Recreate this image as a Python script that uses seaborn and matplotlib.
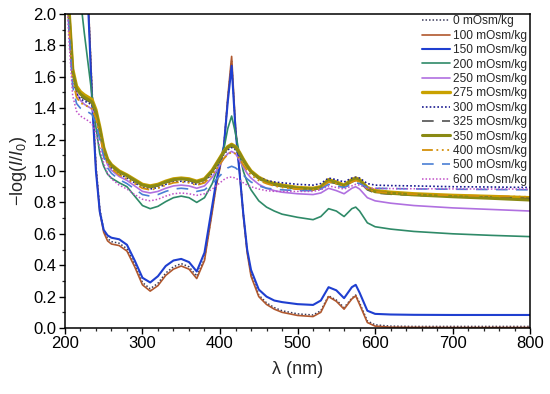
import numpy as np
import pandas as pd
import matplotlib
matplotlib.use("Agg")
import matplotlib.pyplot as plt
import seaborn as sns
from matplotlib.ticker import MultipleLocator

sns.set_theme(style="white")
plt.rcParams['font.family'] = ['Liberation Sans', 'DejaVu Sans']
plt.rcParams['mathtext.fontset'] = 'custom'
plt.rcParams['mathtext.rm'] = 'Liberation Sans'
plt.rcParams['mathtext.it'] = 'Liberation Sans:italic'

wavelength = [200, 205, 210, 215, 220, 225, 230, 235, 240, 245,
              250, 255, 260, 270, 280, 290, 300, 310, 320, 330,
              340, 350, 360, 370, 380, 390, 395, 400, 405, 410,
              415, 420, 425, 430, 435, 440, 450, 460, 470, 480,
              500, 520, 530, 540, 550, 560, 570, 575, 580, 590,
              600, 620, 650, 700, 750, 800]

labels = ["0 mOsm/kg", "100 mOsm/kg", "150 mOsm/kg", "200 mOsm/kg",
          "250 mOsm/kg", "275 mOsm/kg", "300 mOsm/kg", "325 mOsm/kg",
          "350 mOsm/kg", "400 mOsm/kg", "500 mOsm/kg", "600 mOsm/kg"]

a0 = [4.0, 3.9, 3.7, 3.4, 3.0, 2.6, 2.1, 1.52, 1.04, 0.76,
      0.625, 0.57, 0.55, 0.54, 0.505, 0.405, 0.29, 0.25, 0.285, 0.35,
      0.39, 0.41, 0.39, 0.33, 0.44, 0.75, 0.91, 1.03, 1.16, 1.46,
      1.70, 1.27, 1.01, 0.73, 0.49, 0.345, 0.21, 0.16, 0.13, 0.11,
      0.09, 0.083, 0.11, 0.205, 0.178, 0.13, 0.19, 0.21, 0.16, 0.045,
      0.02, 0.012, 0.01, 0.01, 0.01, 0.01]
a100 = [4.0, 3.9, 3.7, 3.4, 3.0, 2.6, 2.1, 1.5, 1.02, 0.74,
        0.61, 0.555, 0.535, 0.525, 0.49, 0.39, 0.275, 0.235, 0.27, 0.335,
        0.375, 0.395, 0.375, 0.315, 0.43, 0.74, 0.90, 1.02, 1.15, 1.47,
        1.73, 1.28, 1.01, 0.72, 0.48, 0.33, 0.20, 0.15, 0.12, 0.10,
        0.08, 0.073, 0.10, 0.20, 0.17, 0.12, 0.185, 0.205, 0.15, 0.035,
        0.012, 0.005, 0.004, 0.003, 0.003, 0.003]
a150 = [4.0, 3.9, 3.7, 3.4, 3.0, 2.55, 2.05, 1.45, 1.0, 0.74,
        0.625, 0.59, 0.575, 0.565, 0.53, 0.43, 0.32, 0.29, 0.33, 0.395,
        0.43, 0.44, 0.42, 0.36, 0.48, 0.78, 0.93, 1.04, 1.16, 1.44,
        1.67, 1.26, 1.00, 0.73, 0.50, 0.37, 0.245, 0.20, 0.175, 0.165,
        0.152, 0.147, 0.175, 0.26, 0.24, 0.19, 0.26, 0.275, 0.225, 0.11,
        0.09, 0.086, 0.084, 0.083, 0.083, 0.083]
a200 = [3.6, 3.2, 2.85, 2.5, 2.1, 1.88, 1.68, 1.48, 1.28, 1.11,
        1.03, 0.98, 0.955, 0.925, 0.90, 0.84, 0.78, 0.76, 0.775, 0.805,
        0.83, 0.84, 0.83, 0.80, 0.83, 0.92, 0.99, 1.06, 1.14, 1.27,
        1.35, 1.24, 1.11, 1.00, 0.93, 0.88, 0.81, 0.77, 0.745, 0.725,
        0.705, 0.69, 0.71, 0.76, 0.745, 0.71, 0.76, 0.77, 0.745, 0.67,
        0.645, 0.63, 0.615, 0.60, 0.59, 0.582]
a250 = [2.6, 2.1, 1.66, 1.50, 1.45, 1.425, 1.41, 1.395, 1.34, 1.23,
        1.11, 1.04, 1.005, 0.965, 0.94, 0.905, 0.87, 0.86, 0.87, 0.89,
        0.905, 0.91, 0.905, 0.89, 0.905, 0.96, 1.00, 1.04, 1.08, 1.11,
        1.125, 1.11, 1.07, 1.025, 0.985, 0.955, 0.915, 0.89, 0.875, 0.865,
        0.855, 0.85, 0.86, 0.89, 0.875, 0.855, 0.89, 0.90, 0.885, 0.83,
        0.81, 0.795, 0.78, 0.765, 0.755, 0.745]
a275 = [2.7, 2.05, 1.65, 1.54, 1.505, 1.485, 1.47, 1.455, 1.39, 1.28,
        1.15, 1.075, 1.04, 1.0, 0.975, 0.945, 0.915, 0.905, 0.915, 0.935,
        0.95, 0.955, 0.95, 0.935, 0.95, 1.005, 1.045, 1.085, 1.125, 1.155,
        1.17, 1.155, 1.12, 1.075, 1.035, 1.0, 0.96, 0.935, 0.92, 0.91,
        0.895, 0.89, 0.90, 0.945, 0.93, 0.91, 0.945, 0.955, 0.945, 0.895,
        0.875, 0.865, 0.855, 0.845, 0.838, 0.83]
a300 = [2.6, 2.0, 1.60, 1.49, 1.46, 1.445, 1.435, 1.42, 1.36, 1.25,
        1.13, 1.06, 1.02, 0.98, 0.955, 0.925, 0.895, 0.885, 0.895, 0.915,
        0.93, 0.935, 0.93, 0.915, 0.93, 0.985, 1.025, 1.065, 1.105, 1.135,
        1.15, 1.135, 1.10, 1.06, 1.025, 0.995, 0.96, 0.94, 0.93, 0.925,
        0.915, 0.91, 0.92, 0.955, 0.945, 0.93, 0.955, 0.96, 0.955, 0.92,
        0.91, 0.907, 0.905, 0.90, 0.898, 0.895]
a325 = [2.6, 2.0, 1.62, 1.51, 1.475, 1.46, 1.445, 1.43, 1.365, 1.255,
        1.135, 1.065, 1.03, 0.99, 0.965, 0.935, 0.905, 0.895, 0.905, 0.925,
        0.94, 0.945, 0.94, 0.925, 0.94, 0.995, 1.035, 1.075, 1.115, 1.145,
        1.16, 1.145, 1.11, 1.065, 1.025, 0.99, 0.95, 0.925, 0.91, 0.90,
        0.885, 0.88, 0.89, 0.93, 0.92, 0.90, 0.93, 0.94, 0.93, 0.88,
        0.86, 0.852, 0.845, 0.838, 0.832, 0.825]
a350 = [2.65, 2.02, 1.63, 1.525, 1.49, 1.47, 1.455, 1.44, 1.375, 1.265,
        1.14, 1.07, 1.035, 0.995, 0.97, 0.94, 0.91, 0.90, 0.91, 0.93,
        0.945, 0.95, 0.945, 0.93, 0.945, 1.0, 1.04, 1.08, 1.12, 1.15,
        1.165, 1.15, 1.115, 1.07, 1.03, 0.995, 0.955, 0.93, 0.915, 0.905,
        0.89, 0.885, 0.895, 0.94, 0.925, 0.905, 0.94, 0.95, 0.94, 0.89,
        0.868, 0.858, 0.848, 0.836, 0.826, 0.815]
a400 = [2.6, 1.98, 1.58, 1.47, 1.435, 1.42, 1.41, 1.395, 1.335, 1.23,
        1.115, 1.05, 1.015, 0.975, 0.95, 0.92, 0.89, 0.88, 0.89, 0.91,
        0.925, 0.93, 0.925, 0.91, 0.925, 0.975, 1.01, 1.045, 1.08, 1.105,
        1.12, 1.11, 1.08, 1.04, 1.005, 0.975, 0.94, 0.92, 0.905, 0.895,
        0.885, 0.88, 0.89, 0.93, 0.92, 0.90, 0.93, 0.94, 0.93, 0.885,
        0.868, 0.86, 0.852, 0.845, 0.84, 0.835]
a500 = [2.5, 1.92, 1.54, 1.43, 1.40, 1.385, 1.375, 1.36, 1.30, 1.20,
        1.09, 1.02, 0.985, 0.945, 0.92, 0.885, 0.85, 0.84, 0.85, 0.87,
        0.885, 0.89, 0.885, 0.87, 0.88, 0.92, 0.945, 0.97, 0.995, 1.02,
        1.03, 1.02, 1.0, 0.975, 0.95, 0.93, 0.905, 0.89, 0.885, 0.88,
        0.875, 0.875, 0.885, 0.915, 0.905, 0.895, 0.915, 0.925, 0.92, 0.895,
        0.89, 0.888, 0.886, 0.884, 0.882, 0.88]
a600 = [2.4, 1.85, 1.48, 1.38, 1.35, 1.335, 1.32, 1.30, 1.24, 1.15,
        1.05, 0.985, 0.95, 0.91, 0.885, 0.85, 0.82, 0.81, 0.82, 0.84,
        0.855, 0.86, 0.855, 0.845, 0.855, 0.885, 0.905, 0.925, 0.945, 0.958,
        0.962, 0.955, 0.94, 0.925, 0.91, 0.90, 0.885, 0.875, 0.87, 0.87,
        0.87, 0.87, 0.88, 0.905, 0.895, 0.885, 0.905, 0.915, 0.91, 0.89,
        0.89, 0.888, 0.887, 0.886, 0.885, 0.885]

series = [a0, a100, a150, a200, a250, a275, a300, a325, a350, a400, a500, a600]

styles = [
    dict(color='#3a3a5a', lw=1.1, ls=(0, (1, 1.3))),
    dict(color='#b0582e', lw=1.2, ls='-'),
    dict(color='#1f3fd0', lw=1.5, ls='-'),
    dict(color='#2f8a68', lw=1.2, ls='-'),
    dict(color='#b070e0', lw=1.2, ls='-'),
    dict(color='#c9a100', lw=2.4, ls='-'),
    dict(color='#1a1a90', lw=1.2, ls=(0, (1, 1.3))),
    dict(color='#505050', lw=1.2, ls=(0, (7, 5))),
    dict(color='#8a8a14', lw=2.2, ls='-'),
    dict(color='#d4900a', lw=1.3, ls=(0, (6, 2, 1, 2, 1, 2, 1, 2))),
    dict(color='#4a7fd4', lw=1.2, ls=(0, (7, 5))),
    dict(color='#c050c8', lw=1.1, ls=(0, (1, 1.3))),
]

fig = plt.figure(figsize=(5.5, 3.94), dpi=100)
ax = fig.add_axes([0.118, 0.1675, 0.846, 0.797])

for lab, vals, st in zip(labels, series, styles):
    df = pd.DataFrame({"wl": wavelength, "A": vals})
    sns.lineplot(data=df, x="wl", y="A", ax=ax, color=st['color'],
                 linewidth=st['lw'], linestyle=st['ls'], label=lab,
                 sort=False, errorbar=None)

ax.set_xlim(200, 800)
ax.set_ylim(0, 2.0)
ax.xaxis.set_major_locator(MultipleLocator(100))
ax.xaxis.set_minor_locator(MultipleLocator(20))
ax.yaxis.set_major_locator(MultipleLocator(0.2))
ax.yaxis.set_minor_locator(MultipleLocator(0.1))
ax.yaxis.set_major_formatter(matplotlib.ticker.FormatStrFormatter('%.1f'))
ax.tick_params(axis='both', which='major', direction='out', length=4, width=1,
               labelsize=12, colors='black', bottom=True, left=True,
               top=False, right=False, pad=2)
ax.tick_params(axis='both', which='minor', direction='out', length=2.5, width=0.9,
               bottom=True, left=True, top=False, right=False)
for sp in ax.spines.values():
    sp.set_color('black')
    sp.set_linewidth(1.1)

ax.set_xlabel('λ (nm)', fontsize=13, labelpad=7)
ax.set_ylabel(r'$-\mathrm{log}(I/I_{0})$', fontsize=13, labelpad=3)

leg = ax.legend(loc='upper right', bbox_to_anchor=(1.0, 1.005), frameon=False,
                fontsize=8.6, handlelength=2.3, handletextpad=0.3,
                labelspacing=0.2, borderaxespad=0.15, borderpad=0.1)

fig.savefig('out.png', dpi=100)
